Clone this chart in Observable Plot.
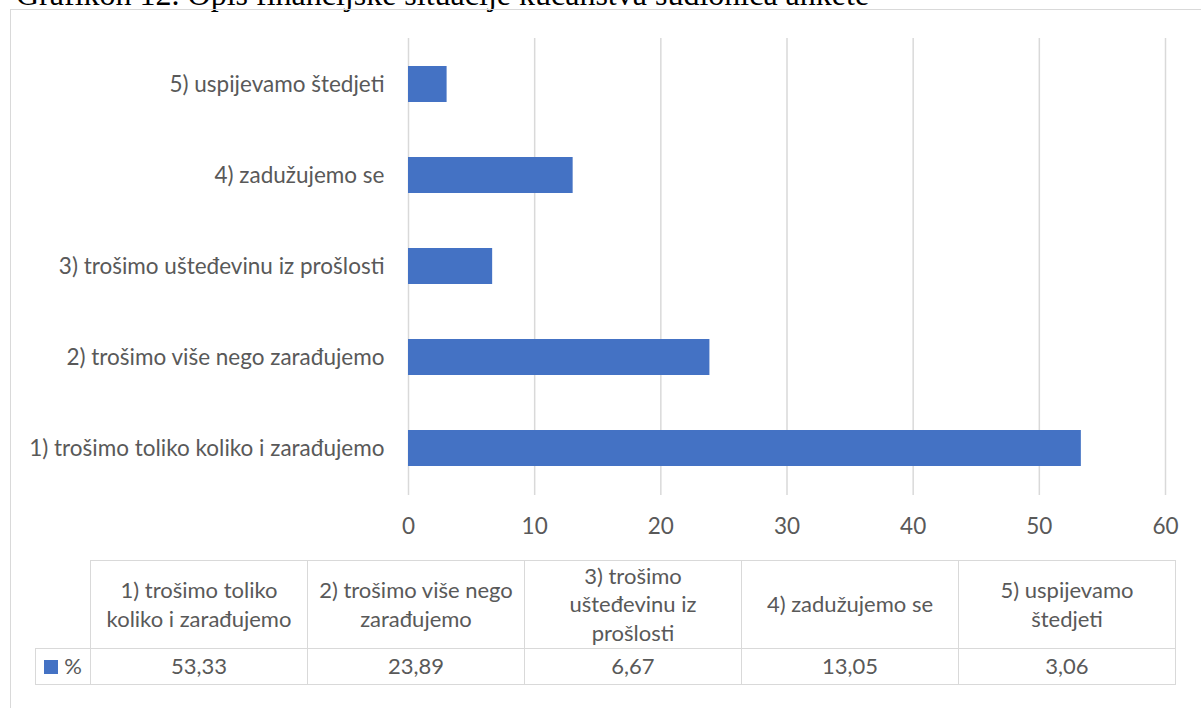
<!DOCTYPE html>
<html>
<head>
<meta charset="utf-8">
<script src="https://cdn.jsdelivr.net/npm/d3@7"></script>
<script src="https://cdn.jsdelivr.net/npm/@observablehq/plot@0.6"></script>
<style>
  html, body { margin: 0; padding: 0; background: #fff; overflow: hidden; }
  body { width: 1201px; height: 708px; position: relative; }
  #title { position: absolute; left: 16px; top: -22px; font-family: "Liberation Serif", "DejaVu Serif", serif; font-size: 32px; line-height: 32px; color: #000; white-space: nowrap; }
  #frame { position: absolute; left: 10px; top: 9px; width: 1200px; height: 710px; border-left: 1.5px solid #d9d9d9; border-top: 1.5px solid #d9d9d9; box-sizing: border-box; }
  #chart { position: absolute; left: 0; top: 0; }
  #tbl { position: absolute; left: 35px; top: 560px; border-collapse: collapse; font-family: Lato, "Open Sans", sans-serif; font-size: 22px; color: #595959; }
  #tbl td { border: 1.5px solid #d9d9d9; text-align: center; padding: 0 2px; box-sizing: border-box; line-height: 28.5px; }
  #tbl td.blank { border: none; border-right: 1.5px solid #d9d9d9; border-bottom: 1.5px solid #d9d9d9; }
  .sw { display: inline-block; width: 14px; height: 14px; background: #4472C4; margin-right: 6px; vertical-align: 0px; }
</style>
</head>
<body>
<div id="title">Grafikon 12. Opis financijske situacije kućanstva sudionica ankete</div>
<div id="frame"></div>
<div id="chart"></div>
<table id="tbl"></table>
<script>
const categories = [
  "1) trošimo toliko koliko i zarađujemo",
  "2) trošimo više nego zarađujemo",
  "3) trošimo ušteđevinu iz prošlosti",
  "4) zadužujemo se",
  "5) uspijevamo štedjeti"
];
const tableHeaders = [
  ["1) trošimo toliko", "koliko i zarađujemo"],
  ["2) trošimo više nego", "zarađujemo"],
  ["3) trošimo", "ušteđevinu iz", "prošlosti"],
  ["4) zadužujemo se"],
  ["5) uspijevamo", "štedjeti"]
];
const values = [53.33, 23.89, 6.67, 13.05, 3.06];
const valueLabels = ["53,33", "23,89", "6,67", "13,05", "3,06"];
const seriesName = "%";
const xTicks = [0, 10, 20, 30, 40, 50, 60];

const data = categories.map((c, i) => ({category: c, value: values[i]}));

const chart = Plot.plot({
  width: 1201,
  height: 548,
  marginLeft: 408,
  marginRight: 36,
  marginTop: 38,
  marginBottom: 53,
  style: {fontFamily: "Lato, 'Open Sans', sans-serif", fontSize: "22.5px", color: "#595959", background: "transparent"},
  x: {domain: [0, 60], ticks: xTicks, label: null, tickSize: 0, tickPadding: 24},
  y: {domain: categories.slice().reverse(), label: null, paddingInner: 0.6, paddingOuter: 0.3, tickSize: 0, tickPadding: 24},
  marks: [
    Plot.ruleX(xTicks, {stroke: "#d9d9d9", strokeWidth: 1.5, strokeOpacity: 1}),
    Plot.barX(data, {x: "value", y: "category", fill: "#4472C4"}),
    Plot.axisX({ticks: xTicks, tickSize: 0, tickPadding: 23, fill: "#595959", label: null}),
    Plot.axisY({tickSize: 0, tickPadding: 24, fill: "#595959", label: null})
  ]
});
document.getElementById("chart").appendChild(chart);

// Data table below the chart
const tbl = document.getElementById("tbl");
const tr1 = document.createElement("tr");
tr1.style.height = "88px";
const blank = document.createElement("td");
blank.className = "blank";
blank.style.width = "55px";
tr1.appendChild(blank);
tableHeaders.forEach(lines => {
  const td = document.createElement("td");
  td.style.width = "217px";
  td.innerHTML = lines.join("<br>");
  tr1.appendChild(td);
});
tbl.appendChild(tr1);
const tr2 = document.createElement("tr");
tr2.style.height = "36px";
const lg = document.createElement("td");
lg.innerHTML = '<span class="sw"></span>' + seriesName;
lg.style.whiteSpace = "nowrap";
lg.style.padding = "0";
tr2.appendChild(lg);
valueLabels.forEach(v => {
  const td = document.createElement("td");
  td.textContent = v;
  tr2.appendChild(td);
});
tbl.appendChild(tr2);
</script>
</body>
</html>
